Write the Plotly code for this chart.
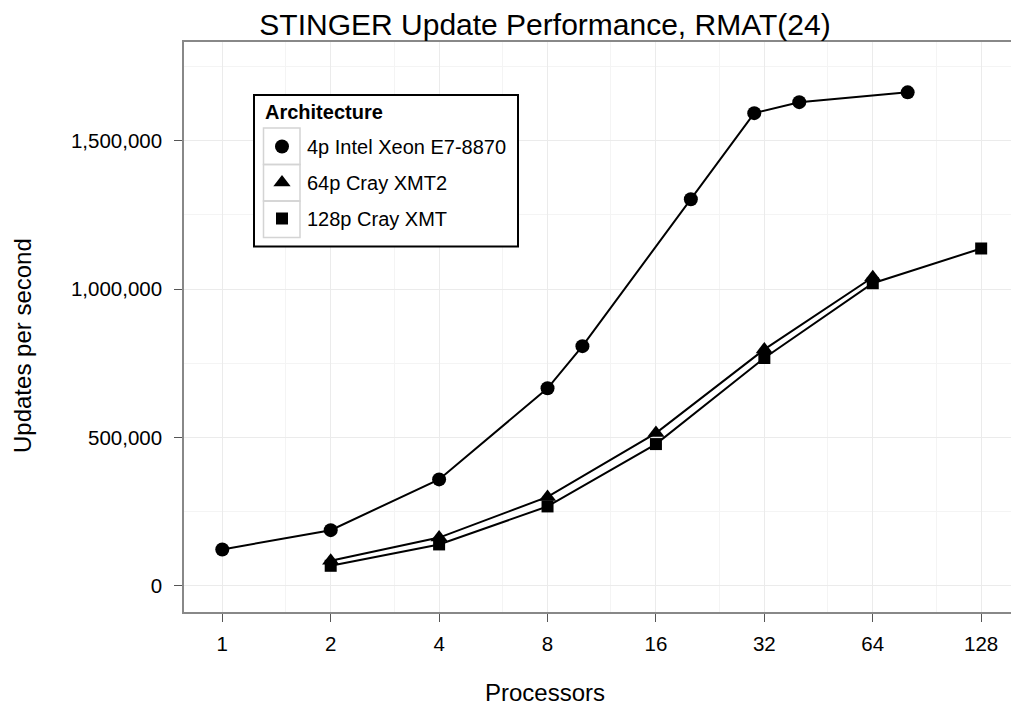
import plotly.graph_objects as go

# Data
xeon_procs = [1, 2, 4, 8, 10, 20, 30, 40, 80]
xeon_rate = [123000, 188000, 359000, 666000, 808000, 1303000, 1593000, 1630000, 1663000]

xmt2_procs = [2, 4, 8, 16, 32, 64]
xmt2_rate = [85000, 163000, 300000, 515000, 797000, 1040000]

xmt_procs = [2, 4, 8, 16, 32, 64, 128]
xmt_rate = [68000, 140000, 268000, 478000, 768000, 1020000, 1137000]

x_ticks = [1, 2, 4, 8, 16, 32, 64, 128]
x_minor = [1.5, 3, 6, 12, 24, 48, 96]
y_ticks = [0, 500000, 1000000, 1500000]
y_tick_text = ["0", "500,000", "1,000,000", "1,500,000"]
y_minor = [250000, 750000, 1250000, 1750000]

series = [
    ("4p Intel Xeon E7-8870", xeon_procs, xeon_rate, "circle", 14),
    ("64p Cray XMT2", xmt2_procs, xmt2_rate, "triangle-up", 15),
    ("128p Cray XMT", xmt_procs, xmt_rate, "square", 12),
]

FONT = "Liberation Sans, Arial, sans-serif"
W, H = 1011, 709
L, R, T, B = 184, 0, 42, 97
PW, PH = W - L - R, H - T - B

def px_x(p):
    return (p - L) / PW

def px_y(p):
    return (H - B - p) / PH

fig = go.Figure()
for i, (name, xs, ys, sym, sz) in enumerate(series):
    fig.add_trace(go.Scatter(
        x=xs, y=ys, name=name, mode="lines+markers",
        line=dict(color="black", width=2),
        marker=dict(symbol=sym, size=sz, color="black"),
        showlegend=False,
    ))
for i, (name, xs, ys, sym, sz) in enumerate(series):
    fig.add_trace(go.Scatter(
        x=[None], y=[None], name=name, mode="markers",
        marker=dict(symbol=sym, size=sz, color="black"),
        legendgroup="g%d" % i, showlegend=True,
    ))

# legend frame (white box with black border) and grey key boxes
fig.add_shape(type="rect", xref="paper", yref="paper", layer="above",
              x0=px_x(254), x1=px_x(518), y0=px_y(95), y1=px_y(246.5),
              fillcolor="white", line=dict(color="black", width=2))
for k in range(3):
    top = 128 + k * 36.5
    fig.add_shape(type="rect", xref="paper", yref="paper", layer="above",
                  x0=px_x(263.5), x1=px_x(300), y0=px_y(top), y1=px_y(top + 36.5),
                  line=dict(color="#d4d4d4", width=1.5))

fig.update_layout(
    width=W, height=H,
    margin=dict(l=L, r=R, t=T, b=B, autoexpand=False),
    paper_bgcolor="white", plot_bgcolor="white",
    font=dict(family=FONT, color="black", size=20),
    title=dict(text="STINGER Update Performance, RMAT(24)",
               x=545 / W, xanchor="center", y=1 - 24 / H, yanchor="middle",
               font=dict(size=30, family=FONT, color="black")),
    legend=dict(
        x=px_x(257), y=px_y(127), xanchor="left", yanchor="top",
        borderwidth=0, bgcolor="rgba(0,0,0,0)",
        font=dict(size=20), tracegroupgap=7, itemwidth=40,
    ),
    xaxis=dict(
        type="log", range=[-0.1063, 2.190],
        tickvals=x_ticks, ticktext=[str(v) for v in x_ticks],
        showgrid=True, gridcolor="#ebebeb", gridwidth=1.2,
        minor=dict(tickvals=x_minor, showgrid=True, gridcolor="#f4f4f4", gridwidth=1, ticklen=0),
        showline=True, linecolor="#888888", linewidth=1.5, mirror=True,
        ticks="outside", ticklen=8, tickcolor="#555555", tickwidth=1.2,
        tickfont=dict(size=20.5), ticklabelstandoff=5, zeroline=False, automargin=False,
    ),
    yaxis=dict(
        range=[-87700, 1832700],
        tickvals=y_ticks, ticktext=y_tick_text,
        showgrid=True, gridcolor="#ebebeb", gridwidth=1.2,
        minor=dict(tickvals=y_minor, showgrid=True, gridcolor="#f4f4f4", gridwidth=1, ticklen=0),
        showline=True, linecolor="#888888", linewidth=1.5,
        ticks="outside", ticklen=8, tickcolor="#555555", tickwidth=1.2,
        tickfont=dict(size=20.5), ticklabelstandoff=8, zeroline=False, automargin=False,
    ),
    annotations=[
        dict(text="<b>Architecture</b>", xref="paper", yref="paper",
             x=px_x(263), y=px_y(111.5), xanchor="left", yanchor="middle",
             showarrow=False, font=dict(size=20)),
        dict(text="Processors", xref="paper", yref="paper",
             x=px_x(545), y=px_y(692), xanchor="center", yanchor="middle",
             showarrow=False, font=dict(size=24)),
        dict(text="Updates per second", xref="paper", yref="paper",
             x=px_x(22), y=px_y(346), xanchor="center", yanchor="middle",
             textangle=-90, showarrow=False, font=dict(size=24)),
    ],
)

fig.write_html(
    "out.html",
    config={"displayModeBar": False},
    post_script="document.body.style.margin='0px';document.body.style.overflow='hidden';",
)
